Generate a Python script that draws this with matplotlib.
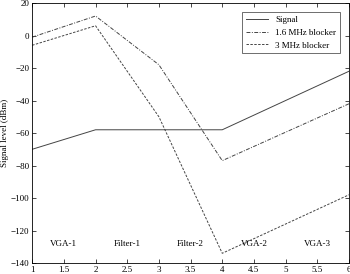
import matplotlib.pyplot as plt
import numpy as np

plt.rcParams['font.family'] = ['Liberation Serif', 'DejaVu Serif']

stages = [1, 2, 3, 4, 5, 6]
signal = [-70, -58, -58, -58, -40, -22]
blocker_16 = [-1, 12, -18, -77, -59.5, -42]
blocker_3 = [-6, 6, -50, -134, -116, -98]

blocks = ["VGA-1", "Filter-1", "Filter-2", "VGA-2", "VGA-3"]
block_x = [1.5, 2.5, 3.5, 4.5, 5.5]

fig = plt.figure(figsize=(3.5, 2.74), dpi=100)
ax = fig.add_axes([0.092, 0.04, 0.905, 0.949])

ax.plot(stages, signal, color="#444444", lw=0.7, ls="-", label="Signal")
ax.plot(stages, blocker_16, color="#444444", lw=0.7, ls=(0, (4, 1.5, 1, 1.5)), label="1.6 MHz blocker")
ax.plot(stages, blocker_3, color="#444444", lw=0.7, ls=(0, (2.5, 1.5)), label="3 MHz blocker")

for x, name in zip(block_x, blocks):
    ax.text(x, -128, name, ha="center", va="center", fontsize=6.5)

ax.set_xlim(1, 6)
ax.set_ylim(-140, 20)
ax.set_xticks(np.arange(1, 6.01, 0.5))
ax.set_xticklabels(["1", "1.5", "2", "2.5", "3", "3.5", "4", "4.5", "5", "5.5", "6"])
ax.set_yticks(np.arange(-140, 21, 20))
ax.tick_params(direction="in", top=True, right=True, labelsize=6.5, length=3, width=0.5, pad=2)
for s in ax.spines.values():
    s.set_linewidth(0.6)
ax.set_ylabel("Signal level (dBm)", fontsize=6.5, labelpad=1)

leg = ax.legend(loc="upper right", fontsize=6.5, frameon=True, fancybox=False,
                edgecolor="black", handlelength=2.5, borderaxespad=1.0)
leg.get_frame().set_linewidth(0.5)

fig.savefig("out.png", dpi=100)
